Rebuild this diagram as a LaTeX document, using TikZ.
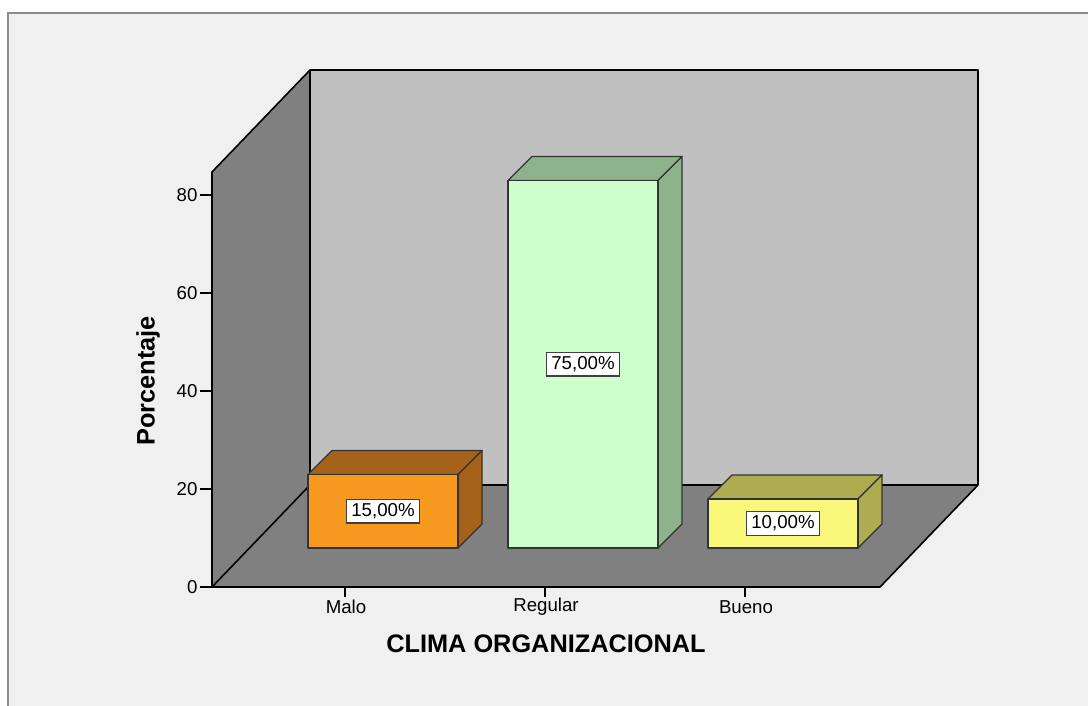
\documentclass[tikz,border=0pt]{standalone}
\usepackage{fontspec}
\setmainfont{Liberation Sans}
\usepackage{tikz}
\usetikzlibrary{positioning}
\definecolor{fondo}{HTML}{F0F0F0}
\definecolor{marco}{HTML}{8C8C8C}
\definecolor{pared}{HTML}{808080}
\definecolor{fondopared}{HTML}{C0C0C0}
\definecolor{malo}{HTML}{F8991F}
\definecolor{maloosc}{HTML}{A5631A}
\definecolor{regular}{HTML}{CCFFCC}
\definecolor{regularosc}{HTML}{8CB38C}
\definecolor{bueno}{HTML}{FAF87A}
\definecolor{buenoosc}{HTML}{ADAC50}
\def\ancho{1088}
\def\alto{706}
\def\escala{4.9}

\begin{document}
\begin{tikzpicture}[x=0.75pt, y=-0.75pt,
	borde/.style={draw=black, line width=1.2pt, line join=round},
	caja/.style={draw=black!80, line width=1pt, line join=round},
	etiq/.style={font=\fontsize{14}{16}\selectfont},
	valor/.style={etiq, fill=white, draw=black!75, line width=1pt, inner xsep=3.5pt, inner ysep=3pt},
	titulo/.style={font=\fontsize{19}{22}\selectfont\bfseries}]
	\useasboundingbox (0,0) rectangle (\ancho,\alto);
	\fill[white] (0,0) rectangle (\ancho,\alto);
	\fill[fondo] (8,13) rectangle (\ancho,\alto);
	\draw[marco, line width=1.5pt] (8,\alto) -- (8,13) -- (\ancho,13);
	% paredes y piso
	\fill[pared] (212,172) -- (310,70) -- (310,485) -- (212,587) -- cycle;
	\fill[fondopared] (310,70) rectangle (978,485);
	\fill[pared] (212,587) -- (310,485) -- (978,485) -- (880,587) -- cycle;
	\draw[borde] (212,587) -- (212,172) -- (310,70) -- (978,70) -- (978,485) -- (880,587) -- cycle;
	\draw[borde] (212,587) -- (310,485) -- (310,70);
	\draw[borde] (310,485) -- (978,485);
	% eje y
	\foreach \v in {0,20,40,60,80}{
		\draw[line width=1pt] (200,587-\escala*\v) -- (212,587-\escala*\v);
		\node[etiq, anchor=east, inner sep=1pt] (tick\v) at (199,587-\escala*\v) {\v};
	}
	\node[titulo, rotate=90] (ejeY) at (148,381) {Porcentaje};
	% barras
	\foreach \i/\h/\cf/\cs/\val/\cat in {0/15/malo/maloosc/{15,00\%}/Malo,
		1/75/regular/regularosc/{75,00\%}/Regular,
		2/10/bueno/buenoosc/{10,00\%}/Bueno}{
		\pgfmathsetmacro\xb{308+200*\i}
		\pgfmathsetmacro\yt{548-\escala*\h}
		\filldraw[fill=\cs, caja] (\xb,\yt) -- (\xb+24,\yt-24) -- (\xb+174,\yt-24) -- (\xb+150,\yt) -- cycle;
		\filldraw[fill=\cs, caja] (\xb+150,\yt) -- (\xb+174,\yt-24) -- (\xb+174,524) -- (\xb+150,548) -- cycle;
		\filldraw[fill=\cf, caja] (\xb,\yt) rectangle (\xb+150,548);
		\node[valor] (val\i) at (\xb+75,{(548+\yt)/2}) {\val};
		\draw[line width=1pt] (\xb+37,587) -- (\xb+37,597);
		\node[etiq] (cat\i) at (\xb+38,607) {\cat};
	}
	\node[titulo] (ejeX) at (546,644) {CLIMA ORGANIZACIONAL};
\end{tikzpicture}
\end{document}
